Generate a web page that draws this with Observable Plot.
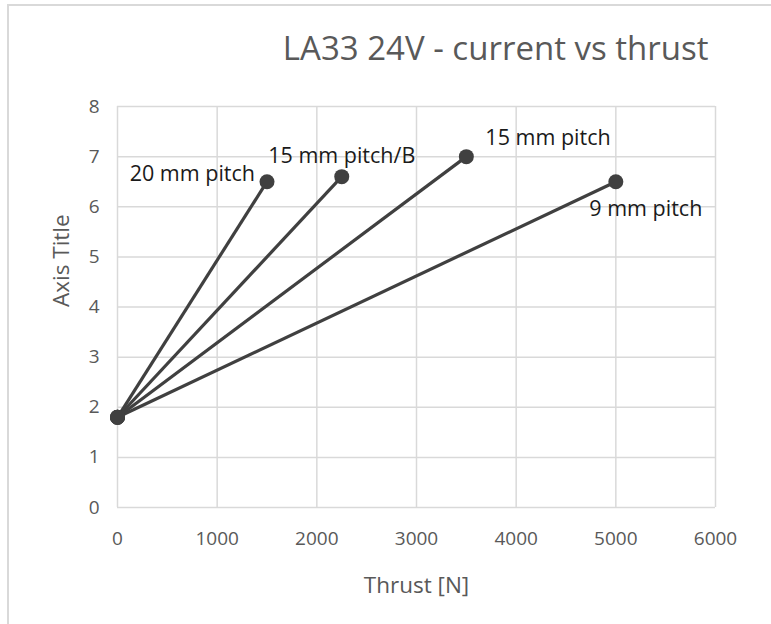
<!DOCTYPE html>
<html>
<head>
<meta charset="utf-8">
<script src="https://cdn.jsdelivr.net/npm/d3@7"></script>
<script src="https://cdn.jsdelivr.net/npm/@observablehq/plot@0.6"></script>
<style>
  html, body { margin: 0; padding: 0; background: #fff; }
  #wrap { position: relative; width: 771px; height: 624px; overflow: hidden; }
  #border { position: absolute; left: 7px; top: 4px; width: 800px; height: 700px;
            border-left: 2px solid #d9d9d9; border-top: 2px solid #d9d9d9; box-sizing: border-box; }
  #chart { position: absolute; left: 0; top: 0; }
</style>
</head>
<body>
<div id="wrap"><div id="border"></div><div id="chart"></div></div>
<script>
// ---- data ----
const chartTitle = "LA33 24V - current vs thrust";
const xTitle = "Thrust [N]";
const yTitle = "Axis Title";
const seriesNames = ["20 mm pitch", "15 mm pitch/B", "15 mm pitch", "9 mm pitch"];
const startThrust = [0, 0, 0, 0];
const startCurrent = [1.8, 1.8, 1.8, 1.8];
const endThrust = [1500, 2250, 3500, 5000];
const endCurrent = [6.5, 6.6, 7, 6.5];
const xTicks = [0, 1000, 2000, 3000, 4000, 5000, 6000];
const yTicks = [0, 1, 2, 3, 4, 5, 6, 7, 8];

// ---- build table ----
const segs = seriesNames.map((name, i) => ({
  name, x1: startThrust[i], y1: startCurrent[i], x2: endThrust[i], y2: endCurrent[i]
}));
const pts = [
  ...segs.map(d => ({x: d.x1, y: d.y1})),
  ...segs.map(d => ({x: d.x2, y: d.y2}))
];

// label placement (style only)
const labelStyle = {
  "20 mm pitch":   {dx: -12, dy: -8,  textAnchor: "end"},
  "15 mm pitch/B": {dx: 0,   dy: -21, textAnchor: "middle"},
  "15 mm pitch":   {dx: 19,  dy: -19, textAnchor: "start"},
  "9 mm pitch":    {dx: 30,  dy: 27,  textAnchor: "middle"}
};

const font = "'Open Sans', sans-serif";
const gridColor = "#d9d9d9";
const textGray = "#595959";
const lineColor = "#404040";

const labelMarks = segs.map(d => Plot.text([d], {
  x: "x2", y: "y2", text: "name",
  dx: labelStyle[d.name].dx, dy: labelStyle[d.name].dy,
  textAnchor: labelStyle[d.name].textAnchor,
  fontSize: 21.5, fill: "#1a1a1a", lineAnchor: "middle"
}));

const chart = Plot.plot({
  width: 771,
  height: 624,
  marginLeft: 117,
  marginRight: 56,
  marginTop: 106,
  marginBottom: 117,
  style: {fontFamily: font, background: "transparent"},
  x: {domain: [0, 6000]},
  y: {domain: [0, 8]},
  marks: [
    Plot.gridX(xTicks, {stroke: gridColor, strokeOpacity: 1, strokeWidth: 1.5}),
    Plot.gridY(yTicks, {stroke: gridColor, strokeOpacity: 1, strokeWidth: 1.5}),
    Plot.axisX(xTicks, {tickSize: 0, tickPadding: 24, fontSize: 19, fill: textGray, label: null, tickFormat: d => String(d)}),
    Plot.axisY(yTicks, {tickSize: 0, tickPadding: 18, fontSize: 19, fill: textGray, label: null, tickFormat: d => String(d)}),
    Plot.text([xTitle], {frameAnchor: "bottom", dy: 78, fontSize: 22.5, fill: textGray, lineAnchor: "middle"}),
    Plot.text([yTitle], {frameAnchor: "left", dx: -56, rotate: -90, fontSize: 22.5, fill: textGray, lineAnchor: "middle"}),
    Plot.text([chartTitle], {frameAnchor: "top-right", dx: -7, dy: -57, fontSize: 33, fill: textGray, textAnchor: "end", lineAnchor: "middle"}),
    Plot.link(segs, {x1: "x1", y1: "y1", x2: "x2", y2: "y2", stroke: lineColor, strokeWidth: 3.2}),
    Plot.dot(pts, {x: "x", y: "y", r: 7.5, fill: lineColor, stroke: "none"}),
    ...labelMarks
  ]
});
document.getElementById("chart").appendChild(chart);
</script>
</body>
</html>
